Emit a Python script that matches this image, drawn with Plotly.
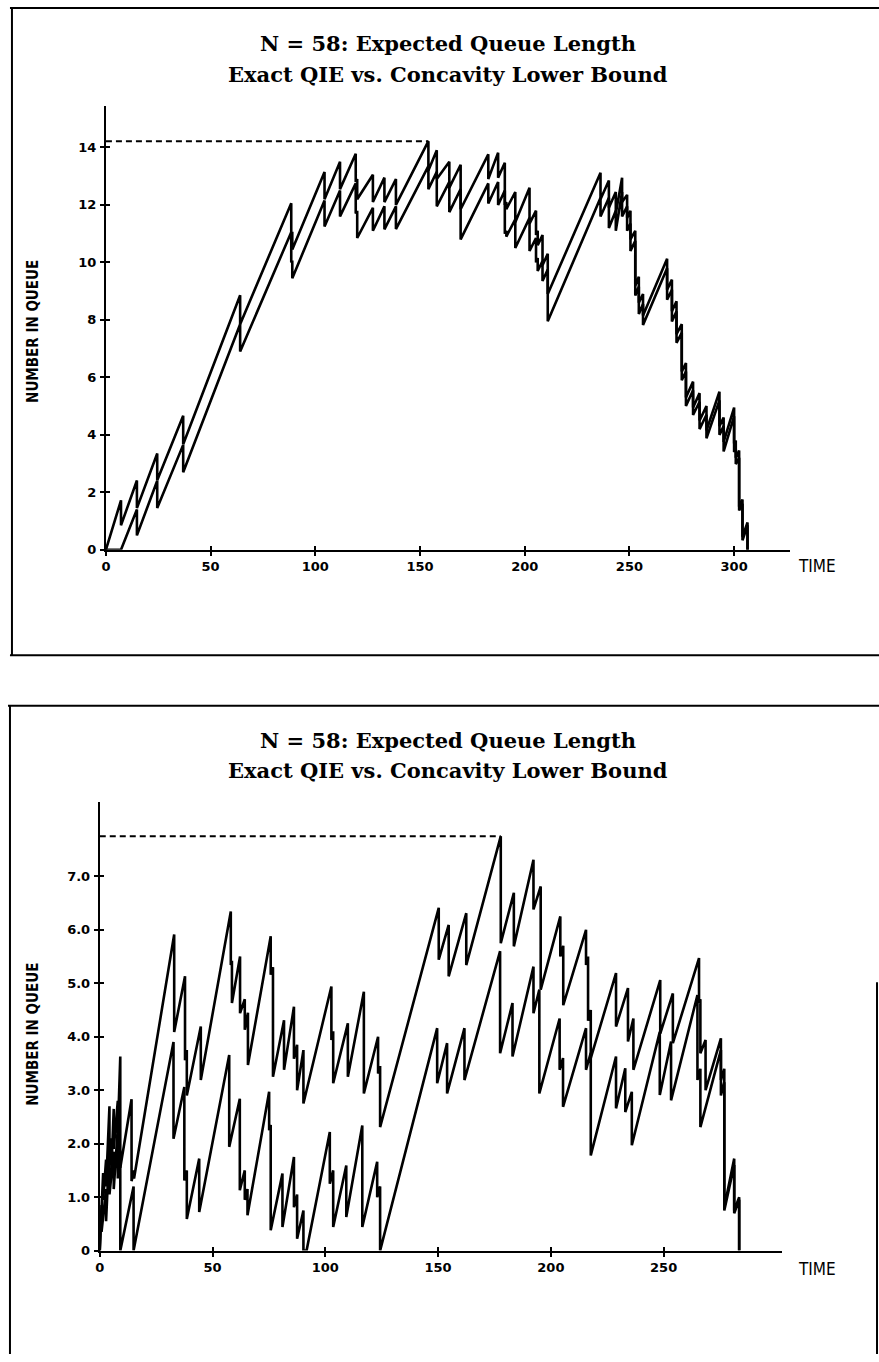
import plotly.graph_objects as go

W, H = 879, 1362

TITLE_1 = "N = 58: Expected Queue Length"
TITLE_2 = "Exact QIE vs. Concavity Lower Bound"
Y_LABEL = "NUMBER IN QUEUE"
X_LABEL = "TIME"

# ---------------- top panel ----------------
top_x_ticks = [0, 50, 100, 150, 200, 250, 300]
top_y_ticks = [0, 2, 4, 6, 8, 10, 12, 14]
top_y_text = ["0", "2", "4", "6", "8", "10", "12", "14"]

top_exact = [
    (0, 0), (7.2, 1.72), (7.2, 0.85), (14.8, 2.41), (14.8, 1.45), (24.5, 3.35), (24.5, 2.42),
    (36.9, 4.66), (36.9, 3.67), (64.1, 8.86), (64.1, 7.85), (88.5, 12.06), (88.5, 11.0),
    (89.0, 11.07), (89.0, 10.45), (104.4, 13.15), (104.4, 12.2), (111.8, 13.5), (111.8, 12.55),
    (119.3, 13.78), (119.3, 12.8), (120.0, 12.9), (120.0, 12.2), (127.5, 13.05), (127.5, 12.1),
    (133.0, 12.95), (133.0, 12.1), (138.5, 12.9), (138.5, 12.0), (154.0, 14.22), (154.0, 13.2),
    (158.0, 13.9), (158.0, 12.9), (164.0, 13.5), (164.0, 12.6), (169.4, 13.4), (169.4, 11.85),
    (182.6, 13.76), (182.6, 12.9), (187.3, 13.82), (187.3, 12.95), (190.5, 13.47), (190.5, 12.0),
    (191.2, 12.1), (191.2, 11.85), (195.5, 12.45), (195.5, 11.4), (202.3, 12.6), (202.3, 11.35),
    (205.4, 11.8), (205.4, 10.95), (206.2, 11.1), (206.2, 10.6), (208.5, 10.95), (208.5, 9.9),
    (211.0, 10.3), (211.0, 8.9), (236.2, 13.12), (236.2, 12.2), (240.2, 12.85), (240.2, 11.9),
    (243.5, 12.45), (243.5, 11.7), (246.5, 12.95), (246.5, 12.1), (248.9, 12.35), (248.9, 11.55),
    (250.5, 11.8), (250.5, 10.8), (252.8, 11.1), (252.8, 9.2), (254.5, 9.5), (254.5, 8.6),
    (256.5, 8.9), (256.5, 8.15), (268.0, 10.13), (268.0, 9.05), (270.3, 9.4), (270.3, 8.3),
    (272.5, 8.65), (272.5, 7.5), (275.0, 7.85), (275.0, 6.2), (277.0, 6.5), (277.0, 5.3),
    (280.4, 5.85), (280.4, 4.95), (283.5, 5.45), (283.5, 4.5), (286.8, 5.0), (286.8, 4.15),
    (293.0, 5.5), (293.0, 4.3), (295.0, 4.6), (295.0, 3.75), (300.0, 4.95), (300.0, 3.7),
    (300.8, 3.8), (300.8, 3.2), (302.4, 3.45), (302.4, 1.5), (304.0, 1.75), (304.0, 0.45),
    (306.4, 0.95), (306.4, 0),
]

top_bound = [
    (0, 0), (7.2, 0), (14.8, 1.4), (14.8, 0.5), (24.5, 2.4), (24.5, 1.45), (36.9, 3.65), (36.9, 2.7),
    (64.1, 7.85), (64.1, 6.9), (88.5, 11.05), (88.5, 10.0), (89.0, 10.07), (89.0, 9.45),
    (104.4, 12.15), (104.4, 11.25), (111.8, 12.5), (111.8, 11.6), (119.3, 12.75), (119.3, 11.7),
    (120.0, 11.8), (120.0, 10.85), (127.5, 11.9), (127.5, 11.1), (133.0, 11.95), (133.0, 11.15),
    (138.5, 11.95), (138.5, 11.16), (154.0, 13.35), (154.0, 12.55), (158.0, 13.15), (158.0, 11.95),
    (164.0, 12.8), (164.0, 11.75), (169.4, 12.55), (169.4, 10.8), (182.6, 12.75), (182.6, 12.05),
    (187.3, 12.8), (187.3, 12.0), (190.5, 12.5), (190.5, 11.0), (191.2, 11.1), (191.2, 10.9),
    (195.5, 11.5), (195.5, 10.5), (202.3, 11.55), (202.3, 10.4), (205.4, 10.85), (205.4, 10.0),
    (206.2, 10.15), (206.2, 9.7), (208.5, 10.05), (208.5, 9.35), (211.0, 9.75), (211.0, 7.95),
    (236.2, 12.25), (236.2, 11.6), (240.2, 12.25), (240.2, 11.2), (243.5, 11.8), (243.5, 11.1),
    (246.5, 12.45), (246.5, 11.6), (248.9, 11.95), (248.9, 11.1), (250.5, 11.35), (250.5, 10.4),
    (252.8, 10.75), (252.8, 8.85), (254.5, 9.15), (254.5, 8.2), (256.5, 8.55), (256.5, 7.82),
    (268.0, 9.8), (268.0, 8.7), (270.3, 9.05), (270.3, 7.94), (272.5, 8.3), (272.5, 7.2),
    (275.0, 7.55), (275.0, 5.9), (277.0, 6.2), (277.0, 5.0), (280.4, 5.55), (280.4, 4.69),
    (283.5, 5.15), (283.5, 4.2), (286.8, 4.7), (286.8, 3.88), (293.0, 5.2), (293.0, 4.0),
    (295.0, 4.3), (295.0, 3.42), (300.0, 4.65), (300.0, 3.4), (300.8, 3.5), (300.8, 2.98),
    (302.4, 3.2), (302.4, 1.37), (304.0, 1.6), (304.0, 0.33), (306.4, 0.85), (306.4, 0),
]

# ---------------- bottom panel ----------------
bot_x_ticks = [0, 50, 100, 150, 200, 250]
bot_y_ticks = [0, 1, 2, 3, 4, 5, 6, 7]
bot_y_text = ["0", "1.0", "2.0", "3.0", "4.0", "5.0", "6.0", "7.0"]

bot_exact = [
    (0, 0), (1.5, 1.45), (1.5, 0.95), (2.8, 1.7), (2.8, 1.2), (4.3, 2.7), (4.3, 1.6), (5.2, 2.1),
    (5.2, 1.55), (6.2, 2.65), (6.2, 1.9), (8.0, 2.8), (8.0, 2.2), (9.1, 3.63), (9.1, 1.55),
    (14.1, 2.83), (14.1, 1.3), (15.2, 1.5), (15.2, 1.35), (33.0, 5.91), (33.0, 4.09),
    (37.8, 5.13), (37.8, 3.56), (38.6, 3.75), (38.6, 2.9), (44.8, 4.19), (44.8, 3.19),
    (58.1, 6.34), (58.1, 5.34), (58.6, 5.42), (58.6, 4.63), (62.2, 5.5), (62.2, 4.44),
    (64.3, 4.7), (64.3, 4.13), (65.7, 4.45), (65.7, 3.47), (75.8, 5.88), (75.8, 5.16),
    (76.8, 5.3), (76.8, 3.25), (81.7, 4.31), (81.7, 3.38), (86.1, 4.56), (86.1, 3.59),
    (87.5, 3.85), (87.5, 3.0), (90.3, 3.75), (90.3, 2.75), (102.7, 4.94), (102.7, 3.94),
    (103.5, 4.1), (103.5, 3.13), (110.0, 4.25), (110.0, 3.25), (117.1, 4.84), (117.1, 2.94),
    (123.4, 4.0), (123.4, 3.31), (124.3, 3.45), (124.3, 2.31), (150.3, 6.41), (150.3, 5.44),
    (154.7, 6.09), (154.7, 5.13), (162.5, 6.31), (162.5, 5.34), (177.8, 7.75), (177.8, 5.75),
    (183.6, 6.69), (183.6, 5.69), (192.3, 7.31), (192.3, 6.38), (195.5, 6.81), (195.5, 4.88),
    (204.2, 6.25), (204.2, 5.5), (205.5, 5.7), (205.5, 4.59), (215.6, 6.0), (215.6, 5.34),
    (216.5, 5.5), (216.5, 4.3), (217.7, 4.5), (217.7, 3.6), (228.9, 5.19), (228.9, 4.19),
    (234.2, 4.91), (234.2, 3.91), (236.6, 4.34), (236.6, 3.38), (248.5, 5.06), (248.5, 4.06),
    (254.1, 4.81), (254.1, 3.88), (265.7, 5.47), (265.7, 4.63), (266.3, 4.7), (266.3, 3.69),
    (268.6, 3.94), (268.6, 3.0), (275.4, 3.97), (275.4, 3.19), (276.9, 3.4), (276.9, 0.81),
    (281.3, 1.72), (281.3, 0.75), (283.5, 1.0), (283.5, 0),
]

bot_bound = [
    (0, 0), (0.8, 0.85), (0.8, 0.35), (2.8, 1.15), (2.8, 0.55), (4.3, 1.95), (4.3, 1.05),
    (6.2, 1.85), (6.2, 1.15), (8.0, 2.3), (8.0, 1.35), (9.1, 1.7), (9.1, 0), (15.0, 1.2), (15.0, 0),
    (32.7, 3.9), (32.7, 2.09), (37.5, 3.06), (37.5, 1.31), (38.6, 1.5), (38.6, 0.59),
    (44.1, 1.72), (44.1, 0.72), (57.4, 3.66), (57.4, 1.94), (62.1, 2.84), (62.1, 1.13),
    (64.3, 1.5), (64.3, 0.95), (65.5, 1.15), (65.5, 0.66), (75.1, 2.97), (75.1, 2.25),
    (75.8, 2.35), (75.8, 0.38), (81.0, 1.44), (81.0, 0.44), (86.1, 1.75), (86.1, 0.81),
    (87.5, 1.05), (87.5, 0.22), (90.3, 0.75), (90.3, 0), (91.7, 0), (102.0, 2.22), (102.0, 1.25),
    (103.5, 1.5), (103.5, 0.44), (109.3, 1.59), (109.3, 0.63), (116.4, 2.34), (116.4, 0.44),
    (123.0, 1.66), (123.0, 1.0), (124.3, 1.2), (124.3, 0), (149.6, 4.16), (149.6, 3.13),
    (154.0, 3.88), (154.0, 2.94), (161.7, 4.16), (161.7, 3.19), (177.5, 5.6), (177.5, 3.69),
    (183.0, 4.63), (183.0, 3.63), (192.3, 5.31), (192.3, 4.44), (194.9, 4.88), (194.9, 2.94),
    (203.9, 4.34), (203.9, 3.38), (205.4, 3.6), (205.4, 2.69), (215.6, 4.16), (215.6, 3.38),
    (217.7, 3.7), (217.7, 1.78), (228.9, 3.63), (228.9, 2.66), (233.0, 3.41), (233.0, 2.59),
    (235.9, 2.97), (235.9, 1.97), (248.3, 4.09), (248.3, 2.91), (253.3, 3.91), (253.3, 2.81),
    (265.0, 4.78), (265.0, 3.19), (266.3, 3.4), (266.3, 2.31), (275.4, 3.75), (275.4, 2.9),
    (276.9, 3.15), (276.9, 0.75), (281.3, 1.6), (281.3, 0.7), (283.5, 0.95), (283.5, 0),
]

# ---------------- layout geometry (pixels) ----------------
def px(x):
    return x / W


def py(y):
    return 1 - y / H


panels = [
    dict(xs="x", ys="y", xi="x3", yi="y3",
         xdom=(101.5, 789.3), ydom=(553, 107), xr=(0, 326.6), yr=(0, 15.43),
         xt=top_x_ticks, yt=top_y_ticks, ytt=top_y_text,
         series=(top_exact, top_bound), t1=44, t2=75, ylab=333, xlab_y=569),
    dict(xs="x2", ys="y2", xi="x4", yi="y4",
         xdom=(95.3, 781.7), ydom=(1258, 806.7), xr=(0, 302.6), yr=(0, 8.39),
         xt=bot_x_ticks, yt=bot_y_ticks, ytt=bot_y_text,
         series=(bot_exact, bot_bound), t1=745, t2=775, ylab=1040, xlab_y=1276),
]

fig = go.Figure()
TICKFONT = dict(family="DejaVu Sans, Liberation Sans", size=13, color="black", weight="bold")
LABELFONT = "Liberation Sans Narrow, DejaVu Sans Condensed, DejaVu Sans"
LINE = dict(color="black", width=2.6)

annotations = []
for p in panels:
    for s in p["series"]:
        fig.add_trace(go.Scatter(x=[a for a, b in s], y=[b for a, b in s], mode="lines",
                                 line=LINE, xaxis=p["xs"], yaxis=p["ys"],
                                 showlegend=False, hoverinfo="skip", cliponaxis=False))
    exact = p["series"][0]
    peak = max(exact, key=lambda ab: ab[1])
    fig.add_trace(go.Scatter(x=[0, peak[0]], y=[peak[1], peak[1]], mode="lines",
                             line=dict(color="black", width=2, dash="6px,4px"),
                             xaxis=p["xs"], yaxis=p["ys"], showlegend=False, hoverinfo="skip"))
    fig.add_trace(go.Scatter(x=[None], y=[None], xaxis=p["xi"], yaxis=p["yi"],
                             showlegend=False, hoverinfo="skip"))

    xname = "xaxis" + p["xs"][1:]
    yname = "yaxis" + p["ys"][1:]
    xi = "xaxis" + p["xi"][1:]
    yi = "yaxis" + p["yi"][1:]
    common = dict(showgrid=False, zeroline=False, showline=True, linecolor="black",
                  linewidth=2, tickcolor="black", tickwidth=2, ticklen=4)
    fig.update_layout(**{
        xname: dict(domain=[px(p["xdom"][0]), px(p["xdom"][1])], range=list(p["xr"]),
                    anchor=p["ys"], tickvals=p["xt"], ticks="outside", tickfont=TICKFONT, **common),
        yname: dict(domain=[py(p["ydom"][0]), py(p["ydom"][1])], range=list(p["yr"]),
                    anchor=p["xs"], tickvals=p["yt"], ticktext=p["ytt"], ticks="outside",
                    tickfont=TICKFONT, ticklabelstandoff=1, **common),
        xi: dict(overlaying=p["xs"], range=list(p["xr"]), anchor=p["yi"], tickvals=p["xt"],
                 ticks="inside", showticklabels=False, **common),
        yi: dict(overlaying=p["ys"], range=list(p["yr"]), anchor=p["xi"], tickvals=p["yt"],
                 ticks="inside", showticklabels=False, **common),
    })

    for txt, yy in ((TITLE_1, p["t1"]), (TITLE_2, p["t2"])):
        annotations.append(dict(text=txt, x=px(446), y=py(yy), xref="paper", yref="paper",
                                showarrow=False, xanchor="center", yanchor="middle",
                                font=dict(family="DejaVu Serif, Liberation Serif", size=21,
                                          color="black", weight="bold")))
    annotations.append(dict(text=Y_LABEL, x=px(28), y=py(p["ylab"]), xref="paper", yref="paper",
                            showarrow=False, textangle=-90, xanchor="center", yanchor="middle",
                            font=dict(family=LABELFONT, size=15, color="black", weight="bold")))
    annotations.append(dict(text=X_LABEL, x=px(796), y=py(p["xlab_y"]), xref="paper",
                            yref="paper", showarrow=False, xanchor="left", yanchor="middle",
                            font=dict(family=LABELFONT, size=17, color="black")))

# panel frames (scanned boxes)
frames = [
    (5, 8, W, 8), (7, 8, 7, 659), (5, 659, W, 659),
    (3, 710, W, 710), (5, 710, 5, H), (877, 988, 877, H),
]
shapes = [dict(type="line", xref="paper", yref="paper", x0=px(a), y0=py(b), x1=px(c), y1=py(d),
               line=dict(color="black", width=2)) for a, b, c, d in frames]

fig.update_layout(width=W, height=H, margin=dict(l=0, r=0, t=0, b=0),
                  paper_bgcolor="white", plot_bgcolor="white",
                  annotations=annotations, shapes=shapes, showlegend=False)

fig.write_html("out.html")
